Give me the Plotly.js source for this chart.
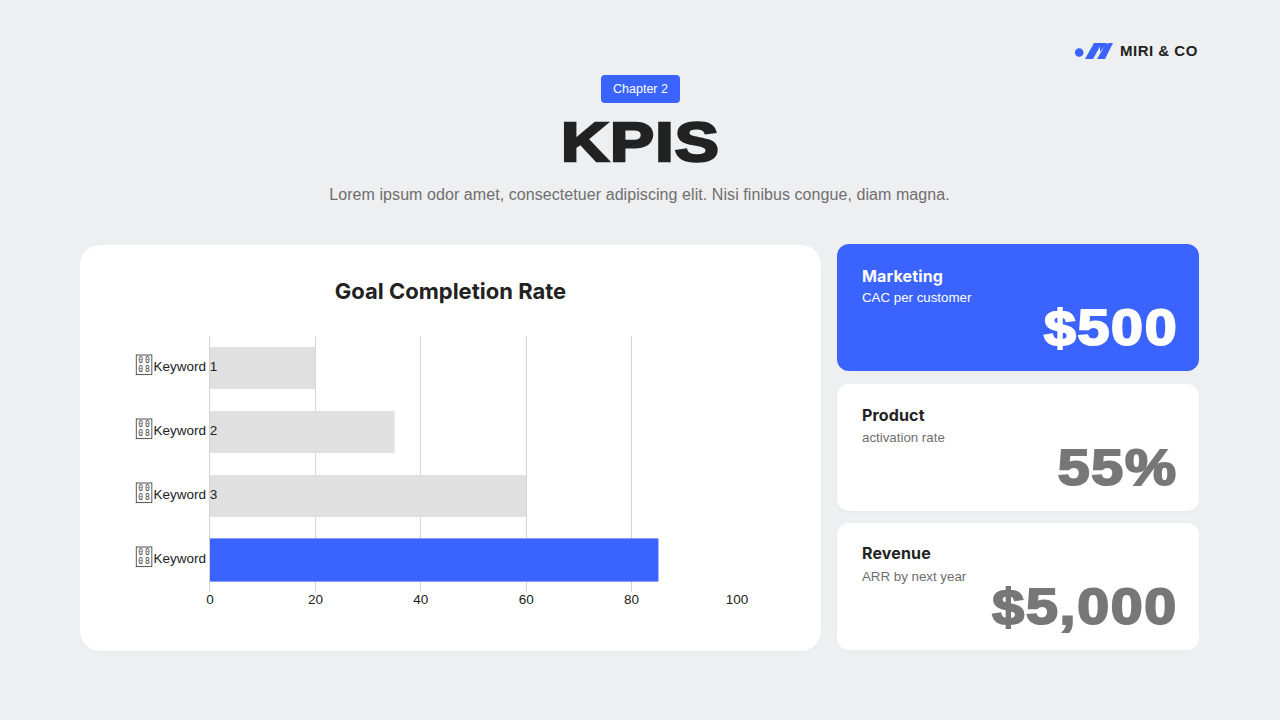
<!DOCTYPE html>
<html><head><meta charset="utf-8">
<script src="https://cdn.plot.ly/plotly-3.0.1.min.js"></script>
<style>
html,body{margin:0;padding:0;background:#EEEFF0;width:1280px;height:720px;overflow:hidden;font-family:"Liberation Sans",Inter,sans-serif;}
.abs{position:absolute;white-space:nowrap;}
.card{position:absolute;background:#fff;border-radius:12px;box-shadow:0 1px 3px rgba(0,0,0,.025);}
.kt{position:absolute;left:25px;font:700 16px "Inter";letter-spacing:.15px}
.ks{position:absolute;left:25px;top:46px;font:13.3px "Liberation Sans"}
.kv{position:absolute;right:21px;top:55px;font:900 50px "Liberation Sans";-webkit-text-stroke:2px currentColor;letter-spacing:1.5px;transform:scaleX(1.146);transform-origin:right center;white-space:nowrap}
</style></head><body>
<div class="abs" style="left:601px;top:75px;width:79px;height:28px;background:#3A63FF;border-radius:4px;color:#fff;font:12.5px/28px 'Liberation Sans';text-align:center">Chapter 2</div>
<div class="abs" style="left:0;width:1281px;top:108px;text-align:center;font:900 56px/68px 'Liberation Sans';color:#222;-webkit-text-stroke:2.5px #222;letter-spacing:1px;transform:scaleX(1.18);transform-origin:640.5px center">KPIS</div>
<div class="abs" style="left:0;width:1279px;top:185px;text-align:center;font:16px/20px 'Liberation Sans';color:#6e6e6e;letter-spacing:.07px">Lorem ipsum odor amet, consectetuer adipiscing elit. Nisi finibus congue, diam magna.</div>
<svg class="abs" style="left:1074px;top:42px" width="40" height="20" viewBox="0 0 40 20">
<circle cx="5.2" cy="10.5" r="4.3" fill="#3A63FF"/>
<path d="M11 17 L20 1 L28 1 L19 17 Z M23 17 L30 5 Q32 1 36 1 L39 1 L31 17 Z M26 1 L33 1 L26 10 Z" fill="#3A63FF"/></svg>
<div class="abs" style="left:1120px;top:42px;font:700 15px/18px 'Liberation Sans';color:#222;letter-spacing:.5px">MIRI &amp; CO</div>
<div class="card" style="left:80px;top:245px;width:741px;height:406px;border-radius:20px"></div>
<div id="chart" class="abs" style="left:80px;top:245px;width:741px;height:406px"></div>
<div id="kpis"></div>
<script>
const categories = ["Keyword 1","Keyword 2","Keyword 3","Keyword 4"];
const values = [20,35,60,85];
const barColors = ["#E0E0E0","#E0E0E0","#E0E0E0","#3A63FF"];
const barLineWidths = [0,0,0,1];
const tickLabels = ["Keyword 1","Keyword 2","Keyword 3","Keyword <span style=\"color:#3A63FF\">4</span>"];
const xTicks = [0,20,40,60,80,100];
const kpiTitles = ["Marketing","Product","Revenue"];
const kpiSubs = ["CAC per customer","activation rate","ARR by next year"];
const kpiValues = ["$500","55%","$5,000"];

const tops=[244,384,523], titleTops=[22,21,20];
const host=document.getElementById('kpis');
kpiTitles.forEach((t,i)=>{
  const c=document.createElement('div');c.className='card';
  const blue=i===0;
  c.style.cssText=`left:837px;top:${tops[i]}px;width:362px;height:127px;background:${blue?'#3A63FF':'#fff'}`;
  c.innerHTML=`<div class="kt" style="top:${titleTops[i]}px;color:${blue?'#fff':'#222'}">${t}</div><div class="ks" style="color:${blue?'#fff':'#6e6e6e'}">${kpiSubs[i]}</div><div class="kv" style="color:${blue?'#fff':'#777'}">${kpiValues[i]}</div>`;
  host.appendChild(c);
});

// missing-glyph box that precedes each keyword label
const tofu='data:image/svg+xml,'+encodeURIComponent('<svg xmlns="http://www.w3.org/2000/svg" width="68" height="84" viewBox="0 0 17 21"><rect x="0.6" y="0.6" width="15.8" height="19.8" fill="#fff" stroke="#444" stroke-width="1.1"/><g font-family="DejaVu Sans Mono" font-size="8" fill="#444" text-anchor="middle"><text x="5.2" y="9">0</text><text x="11.8" y="9">0</text><text x="5.2" y="18">0</text><text x="11.8" y="18">8</text></g></svg>');
const plotW=527.5;
const images=categories.map((c,i)=>({source:tofu,xref:'paper',yref:'y',x:(135-209.5)/plotW,y:i-0.05,sizex:17/plotW,sizey:21/64,xanchor:'left',yanchor:'middle',sizing:'stretch',layer:'above'}));

Plotly.newPlot('chart',[{
  type:'bar',orientation:'h',y:categories,x:values,
  marker:{color:barColors,line:{width:barLineWidths,color:barColors}},width:0.66,hoverinfo:'none',cliponaxis:false
}],{
  width:741,height:406,margin:{l:129.5,r:84,t:91,b:59},
  paper_bgcolor:'rgba(0,0,0,0)',plot_bgcolor:'rgba(0,0,0,0)',
  font:{family:'"Liberation Sans"',color:'#222',size:13},
  title:{text:'<b>Goal Completion Rate</b>',x:0.5,xanchor:'center',y:0.886,yanchor:'middle',font:{family:'Inter',size:22,color:'#222'}},
  showlegend:false,images:images,
  xaxis:{range:[0,100],tickvals:xTicks,ticktext:xTicks.map(String),showgrid:true,gridcolor:'#D5D5D5',gridwidth:1,zeroline:false,showline:false,ticks:'',ticklabelstandoff:-3,tickfont:{size:13.5,color:'#222'},automargin:false,fixedrange:true},
  yaxis:{categoryorder:'array',categoryarray:categories,autorange:'reversed',tickmode:'array',tickvals:categories,ticktext:tickLabels,ticks:'',showgrid:false,zeroline:false,showline:true,linecolor:'#D5D5D5',linewidth:1,ticklabelstandoff:-11,tickfont:{size:13.5,color:'#222'},automargin:false,fixedrange:true}
},{displayModeBar:false,staticPlot:true}).then(()=>{
  document.querySelectorAll('#chart .ytick').forEach(g=>g.setAttribute('transform','translate(0,-1.5)'));
});
</script>
</body></html>
